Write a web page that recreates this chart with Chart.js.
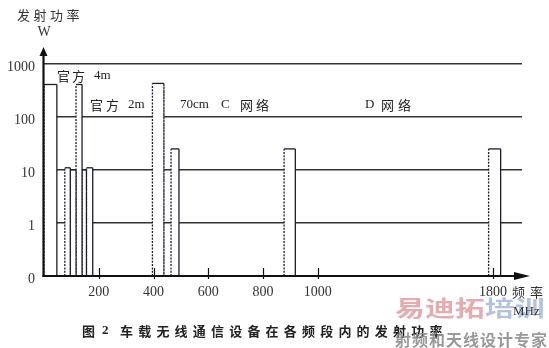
<!DOCTYPE html>
<html><head><meta charset="utf-8">
<script src="https://cdn.jsdelivr.net/npm/chart.js@4.4.1/dist/chart.umd.min.js"></script>
<style>html,body{margin:0;padding:0;background:#fff;}canvas{display:block;}</style>
</head><body>
<canvas id="c" width="549" height="348"></canvas>
<script>
// ---- data ----
const bandNames   = ['HF', '4m-a', '4m-b', '4m', '2m-a', '2m-b', '70cm', 'C', 'D900', 'D1800'];
const bandLowMHz  = [0,   76, 96, 117, 139, 155, 396, 464, 877, 1780];
const bandHighMHz = [47,  96, 117, 139, 155, 178, 438, 493, 918, 1835];
const bandPowerW  = [410, 11, 10,  410, 10,  11,  430, 25,  25,  25];
const yTickValues = [0.1, 1, 10, 100, 1000];
const yTickLabels = ['0', '1', '10', '100', '1000'];
const xTickValuesMHz = [200, 400, 600, 800, 1000, 1800];

// broken frequency axis: above 1000 MHz the axis is compressed
const BREAK_AT = 1000, BREAK_SCALE = 0.8;
function toAxis(f) { return f <= BREAK_AT ? f : BREAK_AT + (f - BREAK_AT) * BREAK_SCALE; }

const INK = '#222';
const datasets = bandLowMHz.map((lo, i) => {
  const hi = bandHighMHz[i], p = bandPowerW[i];
  return {
    label: bandNames[i],
    data: [{x: toAxis(lo), y: 0.1}, {x: toAxis(lo), y: p}, {x: toAxis(hi), y: p}, {x: toAxis(hi), y: 0.1}],
    showLine: true, fill: 'start', backgroundColor: '#fff',
    borderColor: '#1c1c30', borderWidth: 1.3, pointRadius: 0, tension: 0,
    segment: { borderDash: ctx => (ctx.p0.parsed.x === ctx.p1.parsed.x ? [2, 1.3] : undefined) }
  };
});

const serif = '"Liberation Serif", "DejaVu Serif", serif';
const cjk = '"Noto Sans CJK SC", sans-serif';

function put(ctx, text, x, y, font, color) {
  ctx.font = font; ctx.fillStyle = color || INK;
  ctx.textAlign = 'left'; ctx.textBaseline = 'middle';
  ctx.fillText(text, x, y);
}

const decor = {
  id: 'decor',
  afterDraw(chart) {
    const ctx = chart.ctx, a = chart.chartArea;
    const xs = chart.scales.x;
    ctx.save();
    ctx.strokeStyle = '#111'; ctx.fillStyle = '#111';
    // y axis with arrow
    ctx.lineWidth = 2.2;
    ctx.beginPath(); ctx.moveTo(a.left - 0.5, a.bottom + 1); ctx.lineTo(a.left - 0.5, a.top + 6); ctx.stroke();
    ctx.beginPath(); ctx.moveTo(a.left - 0.5, a.top); ctx.lineTo(a.left - 4.5, a.top + 9); ctx.lineTo(a.left + 3.5, a.top + 9); ctx.closePath(); ctx.fill();
    // x axis with arrow
    ctx.beginPath(); ctx.moveTo(a.left - 1.5, a.bottom); ctx.lineTo(a.right + 4, a.bottom); ctx.stroke();
    ctx.beginPath(); ctx.moveTo(a.right + 8, a.bottom); ctx.lineTo(a.right - 8, a.bottom - 4); ctx.lineTo(a.right - 8, a.bottom + 4); ctx.closePath(); ctx.fill();
    // tick marks
    ctx.lineWidth = 1.2;
    xTickValuesMHz.forEach(f => {
      const px = Math.round(xs.getPixelForValue(toAxis(f))) + 0.5;
      ctx.beginPath(); ctx.moveTo(px, a.bottom - 8); ctx.lineTo(px, a.bottom + 3); ctx.stroke();
    });

    const f13 = '13px ' + cjk, s13 = '13px ' + serif;
    // axis titles
    ['发', '射', '功', '率'].forEach((ch, i) => put(ctx, ch, 17 + i * 16.5, 15, f13, '#333'));
    ctx.font = '14px ' + serif; ctx.textAlign = 'center'; ctx.textBaseline = 'middle'; ctx.fillStyle = '#333';
    ctx.fillText('W', a.left, 32);
    put(ctx, '频', 512, 292, f13, '#333');
    put(ctx, '率', 530, 292, f13, '#333');

    // band annotations
    put(ctx, '官', 57, 76, f13); put(ctx, '方', 72, 76, f13); put(ctx, '4m', 94, 76, s13);
    put(ctx, '官', 90, 105, f13); put(ctx, '方', 106, 105, f13); put(ctx, '2m', 128, 105, s13);
    put(ctx, '70cm', 180, 105, s13); put(ctx, 'C', 221, 105, s13); put(ctx, '网', 240, 105, f13); put(ctx, '络', 256, 105, f13);
    put(ctx, 'D', 365, 105, s13); put(ctx, '网', 381, 105, f13); put(ctx, '络', 398, 105, f13);

    // caption
    const capFont = 'bold 13px ' + cjk;
    put(ctx, '图', 82, 331, capFont, '#222');
    put(ctx, '2', 102, 331, 'bold 13px ' + serif, '#222');
    '车载无线通信设备在各频段内的发射功率'.split('').forEach((ch, i) => put(ctx, ch, 120 + i * 18.2, 331, capFont, '#222'));

    // watermark
    ctx.globalAlpha = 0.9;
    ctx.save();
    ctx.translate(395, 308); ctx.scale(1.36, 1);
    ctx.font = 'bold 22px ' + cjk; ctx.textBaseline = 'middle'; ctx.textAlign = 'left';
    ctx.fillStyle = '#e3a2a5'; ctx.fillText('易迪拓', 0, 0);
    ctx.fillStyle = '#a8bddb'; ctx.fillText('培训', 66, 0);
    ctx.restore();
    '射频和天线设计专家'.split('').forEach((ch, i) => put(ctx, ch, 395 + i * 17, 340, 'bold 16px ' + cjk, '#8e8e8e'));
    ctx.globalAlpha = 1;
    put(ctx, 'MHz', 513, 312, '13px ' + serif, '#333');
    ctx.restore();
  }
};

new Chart(document.getElementById('c'), {
  type: 'scatter',
  data: { datasets },
  options: {
    responsive: false, animation: false,
    layout: { padding: { top: 47, right: 27, left: 0, bottom: 0 } },
    plugins: { legend: { display: false }, tooltip: { enabled: false } },
    scales: {
      x: {
        type: 'linear', min: 0, max: 1746,
        afterBuildTicks: s => { s.ticks = xTickValuesMHz.map(f => ({ value: toAxis(f) })); },
        ticks: { callback: (v, i) => String(xTickValuesMHz[i]), font: { family: serif, size: 14 }, color: '#333', padding: 8, autoSkip: false, maxRotation: 0 },
        grid: { display: false, drawTicks: false },
        border: { display: false },
        afterFit: s => { s.height = 72; }
      },
      y: {
        type: 'logarithmic', min: 0.1, max: 2090,
        afterBuildTicks: s => { s.ticks = yTickValues.map(v => ({ value: v })); },
        ticks: { callback: (v, i) => yTickLabels[i], font: { family: serif, size: 14 }, color: '#333', padding: 9, labelOffset: 3, autoSkip: false },
        grid: { color: '#333', lineWidth: 1.5, drawTicks: false },
        border: { display: false },
        afterFit: s => { s.width = 44; }
      }
    }
  },
  plugins: [decor]
});
</script>
</body></html>
